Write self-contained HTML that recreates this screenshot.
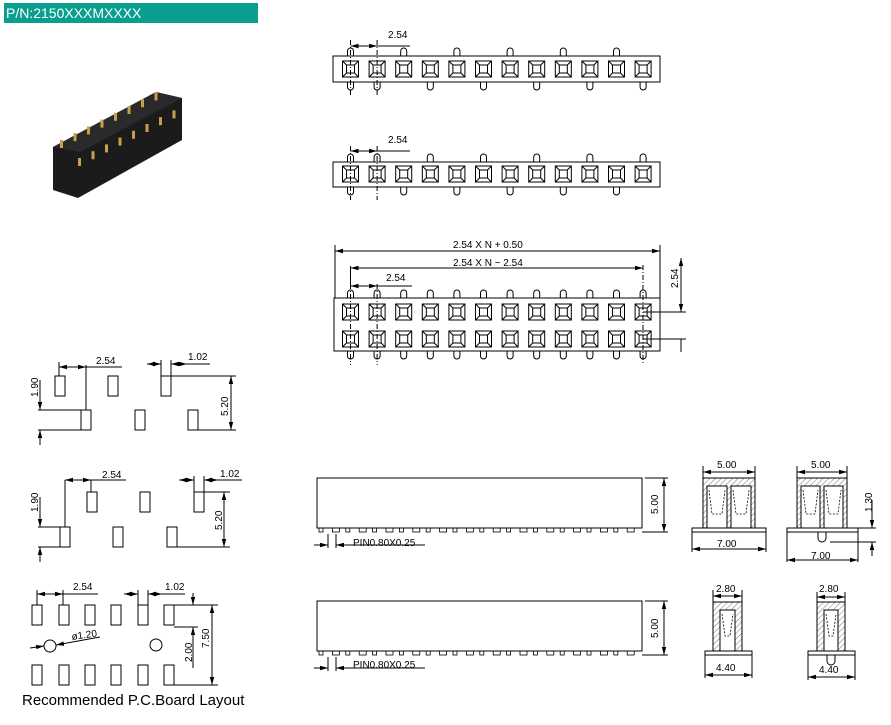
<!DOCTYPE html>
<html><head><meta charset="utf-8"><style>
html,body{margin:0;padding:0;background:#fff;width:891px;height:725px;overflow:hidden}
svg{display:block}
text{font-family:"Liberation Sans",sans-serif;fill:#000}
</style></head><body>
<svg id="s" width="891" height="725" viewBox="0 0 891 725" xmlns="http://www.w3.org/2000/svg">
<defs>
<marker id="a" markerWidth="8" markerHeight="6" refX="8" refY="3" orient="auto-start-reverse" markerUnits="userSpaceOnUse"><path d="M0,0.8 L8,3 L0,5.2z" fill="#000"/></marker>
<pattern id="h" width="4" height="4" patternUnits="userSpaceOnUse" patternTransform="rotate(45)"><line x1="0" y1="0" x2="0" y2="4" stroke="#555" stroke-width="0.8"/></pattern>
</defs>
<rect x="4" y="3" width="254" height="20" fill="#0a9e8f"/>
<text x="6" y="18" font-size="14" style="fill:#fff">P/N:2150XXXMXXXX</text>
<!-- photo -->
<polygon points="53,147 156,92 182,98 182,140 78,198 53,190" fill="#1b1b1b"/>
<polygon points="53,147 156,92 182,98 80,152" fill="#2a2a2a"/>
<g id="gold" fill="#c9a04a"></g>
<g id="g" stroke="#000" stroke-width="1" fill="none"></g>
<g font-size="10">
<text x="388" y="38">2.54</text>
<text x="388" y="143">2.54</text>
<text x="453" y="248">2.54 X N + 0.50</text>
<text x="453" y="266">2.54 X N − 2.54</text>
<text x="386" y="281">2.54</text>
<text transform="translate(678,288) rotate(-90)">2.54</text>
<text x="96" y="364">2.54</text>
<text x="188" y="360">1.02</text>
<text transform="translate(38,397) rotate(-90)">1.90</text>
<text transform="translate(228,416) rotate(-90)">5.20</text>
<text x="102" y="478">2.54</text>
<text x="220" y="477">1.02</text>
<text transform="translate(38,512) rotate(-90)">1.90</text>
<text transform="translate(222,530) rotate(-90)">5.20</text>
<text x="73" y="590">2.54</text>
<text x="165" y="590">1.02</text>
<text x="72" y="640" transform="rotate(-8,72,640)">ø1.20</text>
<text transform="translate(192,662) rotate(-90)">2.00</text>
<text transform="translate(209,648) rotate(-90)">7.50</text>
<text x="353" y="546">PIN0.80X0.25</text>
<text x="353" y="668">PIN0.80X0.25</text>
<text transform="translate(658,514) rotate(-90)">5.00</text>
<text transform="translate(658,638) rotate(-90)">5.00</text>
<text x="717" y="468">5.00</text>
<text x="717" y="547">7.00</text>
<text x="811" y="468">5.00</text>
<text x="811" y="559">7.00</text>
<text transform="translate(872,512) rotate(-90)">1.30</text>
<text x="716" y="592">2.80</text>
<text x="716" y="671">4.40</text>
<text x="819" y="592">2.80</text>
<text x="819" y="673">4.40</text>
</g>
<text x="22" y="705" font-size="15">Recommended P.C.Board Layout</text>
</svg>
<script>
var g=document.getElementById('g'),NS='http://www.w3.org/2000/svg';
function el(t,a,p){var e=document.createElementNS(NS,t);for(var k in a)e.setAttribute(k,a[k]);(p||g).appendChild(e);return e}
function L(x1,y1,x2,y2,o){var a={x1:x1,y1:y1,x2:x2,y2:y2};for(var k in o)a[k]=o[k];return el('line',a)}
function R(x,y,w,h,o){var a={x:x,y:y,width:w,height:h};for(var k in o)a[k]=o[k];return el('rect',a)}
function D(x1,y1,x2,y2){L(x1,y1,x2,y2,{'marker-start':'url(#a)','marker-end':'url(#a)'})}
function sq(cx,cy){R(cx-8,cy-8,16,16);R(cx-4,cy-4,8,8);L(cx-8,cy-8,cx-4,cy-4);L(cx+8,cy-8,cx+4,cy-4);L(cx-8,cy+8,cx-4,cy+4);L(cx+8,cy+8,cx+4,cy+4)}
function stub(cx,y,up){var d=up?('M'+(cx-3)+','+y+' v-5 a3,3 0 0 1 6,0 v5'):('M'+(cx-3)+','+y+' v5 a3,3 0 0 0 6,0 v-5');el('path',{d:d})}
var P=26.6,X0=350.5;
var gd=document.getElementById('gold');
for(var i=0;i<8;i++){var px=60+i*13.5,py=140-i*6.8;el('rect',{x:px,y:py,width:3,height:8},gd);el('rect',{x:px+18,y:py+18,width:3,height:8},gd);}
// view 1
R(333,56,327,26);
for(i=0;i<12;i++){var cx=X0+i*P;sq(cx,69);if(i%2==0)stub(cx,56,true);else stub(cx,82,false);}
stub(X0,82,false);
L(X0,40,X0,96,{'stroke-dasharray':'5,2,1,2'});L(X0+P,40,X0+P,96,{'stroke-dasharray':'5,2,1,2'});
D(X0,46,X0+P,46);L(X0+P,46,410,46);
// view 2
R(333,162,327,25);
for(i=0;i<12;i++){cx=X0+i*P;sq(cx,174);if(i%2==1)stub(cx,162,true);else stub(cx,187,false);}
stub(X0,162,true);
L(X0,146,X0,200,{'stroke-dasharray':'5,2,1,2'});L(X0+P,146,X0+P,200,{'stroke-dasharray':'5,2,1,2'});
D(X0,151,X0+P,151);L(X0+P,151,410,151);
// view 3
R(334,298,326,53);
for(i=0;i<12;i++){cx=X0+i*P;sq(cx,312);sq(cx,339);stub(cx,298,true);stub(cx,351,false);}
L(X0,284,X0,365,{'stroke-dasharray':'5,2,1,2'});L(X0+P,284,X0+P,365,{'stroke-dasharray':'5,2,1,2'});L(643,265,643,365,{'stroke-dasharray':'5,2,1,2'});
L(335,245,335,298);L(660,245,660,298);D(335,251,660,251);
D(X0,268,643,268);L(X0,266,X0,284);
D(X0,286,X0+P,286);L(X0+P,286,412,286);
L(643,312,686,312);L(643,339,686,339);D(681,258,681,312);L(681,339,681,352);
// footprint 1
[[55,376],[108,376],[161,376],[81,410],[135,410],[188,410]].forEach(function(p){R(p[0],p[1],10,20)});
D(59,367,86,367);L(86,367,122,367);L(59,362,59,376);L(86,365,86,410);
D(147,364,161,364);D(187,364,171,364);L(171,364,210,364);L(161,360,161,376);L(171,360,171,376);
L(171,376,236,376);L(198,430,236,430);D(231,376,231,430);
L(38,410,81,410);L(38,430,81,430);L(40,380,40,410,{'marker-end':'url(#a)'});L(40,445,40,430,{'marker-end':'url(#a)'});
// footprint 2
[[87,492],[140,492],[194,492],[60,527],[113,527],[167,527]].forEach(function(p){R(p[0],p[1],10,20)});
D(65,480,91,480);L(91,480,126,480);L(65,480,65,527);L(91,480,91,492);
D(179,480,194,480);D(218,480,204,480);L(204,480,242,480);L(194,476,194,492);L(204,476,204,492);
L(204,492,230,492);L(177,547,230,547);D(224,492,224,547);
L(38,527,60,527);L(38,547,60,547);L(40,497,40,527,{'marker-end':'url(#a)'});L(40,562,40,547,{'marker-end':'url(#a)'});
// footprint 3
[32,59,85,111,138,164].forEach(function(x){R(x,605,10,20);R(x,665,10,20)});
el('circle',{cx:50,cy:646,r:6});el('circle',{cx:156,cy:645,r:6});
L(30,648,44,646,{'marker-end':'url(#a)'});L(100,637,56,645,{'marker-end':'url(#a)'});
D(37,594,63,594);L(63,594,98,594);L(37,590,37,605);L(63,590,63,605);
D(124,594,138,594);D(162,594,148,594);L(148,594,185,594);L(138,590,138,605);L(148,590,148,605);
L(174,605,218,605);L(174,627,198,627);L(174,685,218,685);D(212,605,212,685);
L(193,593,193,605,{'marker-end':'url(#a)'});L(193,668,193,627,{'marker-end':'url(#a)'});
// side views
function side(y){R(317,y,325,50);for(var k=0;k<24;k++){var x=319+k*13.4;R(x,y+50,k%2?7:4,4,{'stroke-width':0.8});}
L(645,y,668,y);L(642,y+54,668,y+54);D(664,y,664,y+54);
L(328,y+56,328,y+70);L(336,y+56,336,y+70);L(314,y+67,328,y+67,{'marker-end':'url(#a)'});L(350,y+67,336,y+67,{'marker-end':'url(#a)'});L(336,y+67,425,y+67);}
side(478);side(601);
// cross sections
function sec(x,y,w,h,fx,fw,single,peg){R(x,y,w,h,{fill:'url(#h)'});
 if(single){R(x+7,y+8,w-14,h-8,{fill:'#fff'});el('path',{d:'M'+(x+9)+','+(y+12)+' l3,22 h'+(w-24)+' l3,-22',fill:'none','stroke-dasharray':'2,1.5','stroke-width':0.8});}
 else{var cw=(w-12)/2;[x+4,x+8+cw].forEach(function(cx){R(cx,y+8,cw,h-8,{fill:'#fff'});el('path',{d:'M'+(cx+2)+','+(y+12)+' l3,24 h'+(cw-10)+' l3,-24',fill:'none','stroke-dasharray':'2,1.5','stroke-width':0.8});});}
 if(peg)el('path',{d:'M'+(x+w/2-4)+','+(y+h+4)+' v6 a4,4 0 0 0 8,0 v-6',fill:'#fff'});
 R(fx,y+h,fw,4,{fill:'#fff'});}
sec(703,478,52,50,692,74,false,false);
L(703,466,703,478);L(755,466,755,478);D(703,472,755,472);
L(692,532,692,552);L(766,532,766,552);D(692,549,766,549);
sec(797,478,50,50,787,71,false,true);
L(797,466,797,478);L(847,466,847,478);D(797,472,847,472);
L(787,532,787,562);L(858,532,858,562);D(787,560,858,560);
L(858,528,876,528);L(830,542,876,542);L(872,500,872,528,{'marker-end':'url(#a)'});L(872,556,872,542,{'marker-end':'url(#a)'});
sec(713,602,29,49,705,47,true,false);
L(713,590,713,602);L(742,590,742,602);D(713,596,742,596);
L(705,655,705,678);L(752,655,752,678);D(705,675,752,675);
sec(817,602,28,49,808,47,true,true);
L(817,592,817,602);L(845,592,845,602);D(817,597,845,597);
L(808,655,808,680);L(855,655,855,680);D(808,677,855,677);
</script>
</body></html>
